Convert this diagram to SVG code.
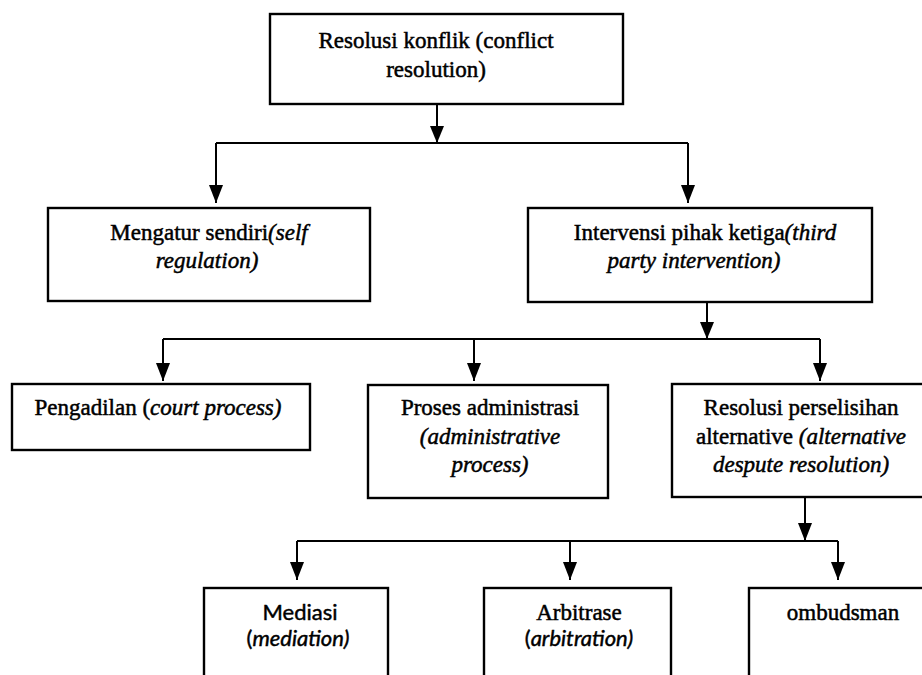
<svg xmlns="http://www.w3.org/2000/svg" width="922" height="675" viewBox="0 0 922 675">
<defs>
<style>
.box{fill:#fff;stroke:#000;stroke-width:2.4}
.ln{fill:none;stroke:#000;stroke-width:2}
.t{font-size:23px;fill:#000;text-anchor:middle;stroke:#000;stroke-width:0.5}
.s{font-size:22px;fill:#000;text-anchor:middle;stroke:#000;stroke-width:0.45}
.i{font-style:italic}
</style>
</defs>
<rect width="922" height="675" fill="#fff"/>

<g id="connectors">
<line class="ln" x1="437" y1="104" x2="437" y2="143"/>
<path d="M430,126 L444,126 L437,143 Z" fill="#000"/>
<line class="ln" x1="216" y1="143" x2="688" y2="143"/>
<line class="ln" x1="216" y1="143" x2="216" y2="203"/>
<path d="M209,185 L223,185 L216,203 Z" fill="#000"/>
<line class="ln" x1="688" y1="143" x2="688" y2="203"/>
<path d="M681,185 L695,185 L688,203 Z" fill="#000"/>

<line class="ln" x1="707" y1="302" x2="707" y2="339"/>
<path d="M700,322 L714,322 L707,339 Z" fill="#000"/>
<line class="ln" x1="163" y1="339" x2="820" y2="339"/>
<line class="ln" x1="163" y1="339" x2="163" y2="381"/>
<path d="M156,363 L170,363 L163,381 Z" fill="#000"/>
<line class="ln" x1="474" y1="339" x2="474" y2="381"/>
<path d="M467,363 L481,363 L474,381 Z" fill="#000"/>
<line class="ln" x1="820" y1="339" x2="820" y2="381"/>
<path d="M813,363 L827,363 L820,381 Z" fill="#000"/>

<line class="ln" x1="805" y1="498" x2="805" y2="541"/>
<path d="M798,523 L812,523 L805,541 Z" fill="#000"/>
<line class="ln" x1="297" y1="541" x2="838" y2="541"/>
<line class="ln" x1="297" y1="541" x2="297" y2="580"/>
<path d="M290,562 L304,562 L297,580 Z" fill="#000"/>
<line class="ln" x1="570" y1="541" x2="570" y2="580"/>
<path d="M563,562 L577,562 L570,580 Z" fill="#000"/>
<line class="ln" x1="838" y1="541" x2="838" y2="580"/>
<path d="M831,562 L845,562 L838,580 Z" fill="#000"/>
</g>

<g font-family="Liberation Serif, Times New Roman, serif">
<g id="n-root">
<rect class="box" x="270" y="14" width="353" height="90"/>
<text class="t" x="436" y="48">Resolusi konflik (conflict</text>
<text class="t" x="436" y="77">resolution)</text>
</g>

<g id="n-self">
<rect class="box" x="48" y="208" width="322" height="93"/>
<text class="t" x="209" y="240">Mengatur sendiri<tspan class="i">(self</tspan></text>
<text class="t i" x="207" y="268">regulation)</text>
</g>

<g id="n-third">
<rect class="box" x="528" y="208" width="344" height="94"/>
<text class="t" x="705" y="240">Intervensi pihak ketiga<tspan class="i">(third</tspan></text>
<text class="t i" x="694" y="268">party intervention)</text>
</g>

<g id="n-court">
<rect class="box" x="12" y="384" width="298" height="66"/>
<text class="t" x="158" y="415">Pengadilan (<tspan class="i">court process)</tspan></text>
</g>

<g id="n-admin">
<rect class="box" x="368" y="385" width="240" height="113"/>
<text class="t" x="490" y="415">Proses administrasi</text>
<text class="t i" x="490" y="444">(administrative</text>
<text class="t i" x="490" y="472">process)</text>
</g>

<g id="n-adr">
<rect class="box" x="672" y="384" width="260" height="113"/>
<text class="t" x="801" y="415">Resolusi perselisihan</text>
<text class="t" x="801" y="444">alternative <tspan class="i">(alternative</tspan></text>
<text class="t i" x="801" y="472">despute resolution)</text>
</g>

<g id="n-mediasi">
<rect class="box" x="204" y="588" width="184" height="100"/>
<text class="s" x="300" y="620" font-family="Lato, Open Sans, sans-serif">Mediasi</text>
<text class="s" x="298" y="646" font-family="Lato, Open Sans, sans-serif">(<tspan class="i">mediation)</tspan></text>
</g>

<g id="n-arbitrase">
<rect class="box" x="484" y="588" width="187" height="100"/>
<text class="t" x="579" y="620">Arbitrase</text>
<text class="s" x="579" y="646" font-family="Lato, Open Sans, sans-serif">(<tspan class="i">arbitration)</tspan></text>
</g>

<g id="n-ombudsman">
<rect class="box" x="749" y="588" width="182" height="100"/>
<text class="t" x="843" y="620">ombudsman</text>
</g>
</g>
</svg>
